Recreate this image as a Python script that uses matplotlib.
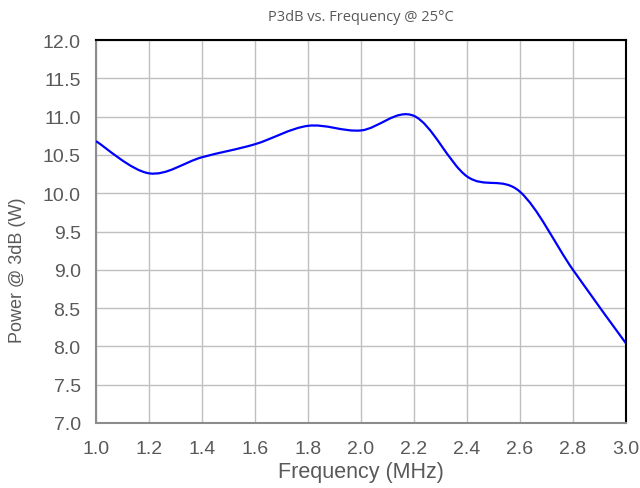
import matplotlib
matplotlib.use("Agg")
import matplotlib.pyplot as plt
from matplotlib.path import Path
from matplotlib.patches import PathPatch

freq = [1.0, 1.2, 1.4, 1.6, 1.8, 2.0, 2.2, 2.4, 2.6, 2.8, 3.0]
power = [10.68, 10.26, 10.47, 10.64, 10.88, 10.82, 11.01, 10.22, 10.02, 9.00, 8.04]

xticks = [1.0, 1.2, 1.4, 1.6, 1.8, 2.0, 2.2, 2.4, 2.6, 2.8, 3.0]
yticks = [7.0, 7.5, 8.0, 8.5, 9.0, 9.5, 10.0, 10.5, 11.0, 11.5, 12.0]

plt.rcParams['font.family'] = ['Liberation Sans', 'DejaVu Sans']

fig = plt.figure(figsize=(6.4, 4.89), dpi=100)
ax = fig.add_axes([0.150, 0.133, 0.828, 0.783])

# Excel-style smoothed line: cubic bezier through the points
pts = list(zip(freq, power))
verts = [pts[0]]
codes = [Path.MOVETO]
for i in range(len(pts) - 1):
    p0 = pts[i - 1] if i > 0 else pts[i]
    p1 = pts[i]
    p2 = pts[i + 1]
    p3 = pts[i + 2] if i + 2 < len(pts) else pts[i + 1]
    c1 = (p1[0] + (p2[0] - p0[0]) / 6, p1[1] + (p2[1] - p0[1]) / 6)
    c2 = (p2[0] - (p3[0] - p1[0]) / 6, p2[1] - (p3[1] - p1[1]) / 6)
    verts += [c1, c2, p2]
    codes += [Path.CURVE4] * 3
ax.add_patch(PathPatch(Path(verts, codes), facecolor='none',
                       edgecolor='#0000FF', lw=1.6, zorder=3))

ax.set_xlim(1.0, 3.0)
ax.set_ylim(7.0, 12.0)
ax.set_xticks(xticks)
ax.set_yticks(yticks)
ax.set_xticklabels([f"{v:.1f}" for v in xticks])
ax.set_yticklabels([f"{v:.1f}" for v in yticks])
ax.tick_params(length=0, labelsize=14, colors='#595959')
ax.tick_params(axis='x', pad=12)
ax.tick_params(axis='y', pad=11)
ax.grid(True, color='#BFBFBF', lw=1.0)
ax.set_axisbelow(True)

for s in ['top', 'right']:
    ax.spines[s].set_color('black')
    ax.spines[s].set_linewidth(1.5)
for s in ['left', 'bottom']:
    ax.spines[s].set_color('#8C8C8C')
    ax.spines[s].set_linewidth(1.5)

ax.set_xlabel('Frequency (MHz)', fontsize=15.5, color='#595959')
ax.set_ylabel('Power @ 3dB (W)', fontsize=13, color='#595959')
ax.xaxis.set_label_coords(0.564, 0.033, transform=fig.transFigure)
ax.xaxis.label.set_va('center')
ax.yaxis.set_label_coords(0.028, 0.448, transform=fig.transFigure)
ax.yaxis.label.set_va('center')
fig.text(0.564, 0.965, 'P3dB vs. Frequency @ 25°C',
         ha='center', va='center', fontsize=10.5, color='#595959',
         family=['Open Sans', 'DejaVu Sans'])

fig.savefig('out.png', dpi=100)
